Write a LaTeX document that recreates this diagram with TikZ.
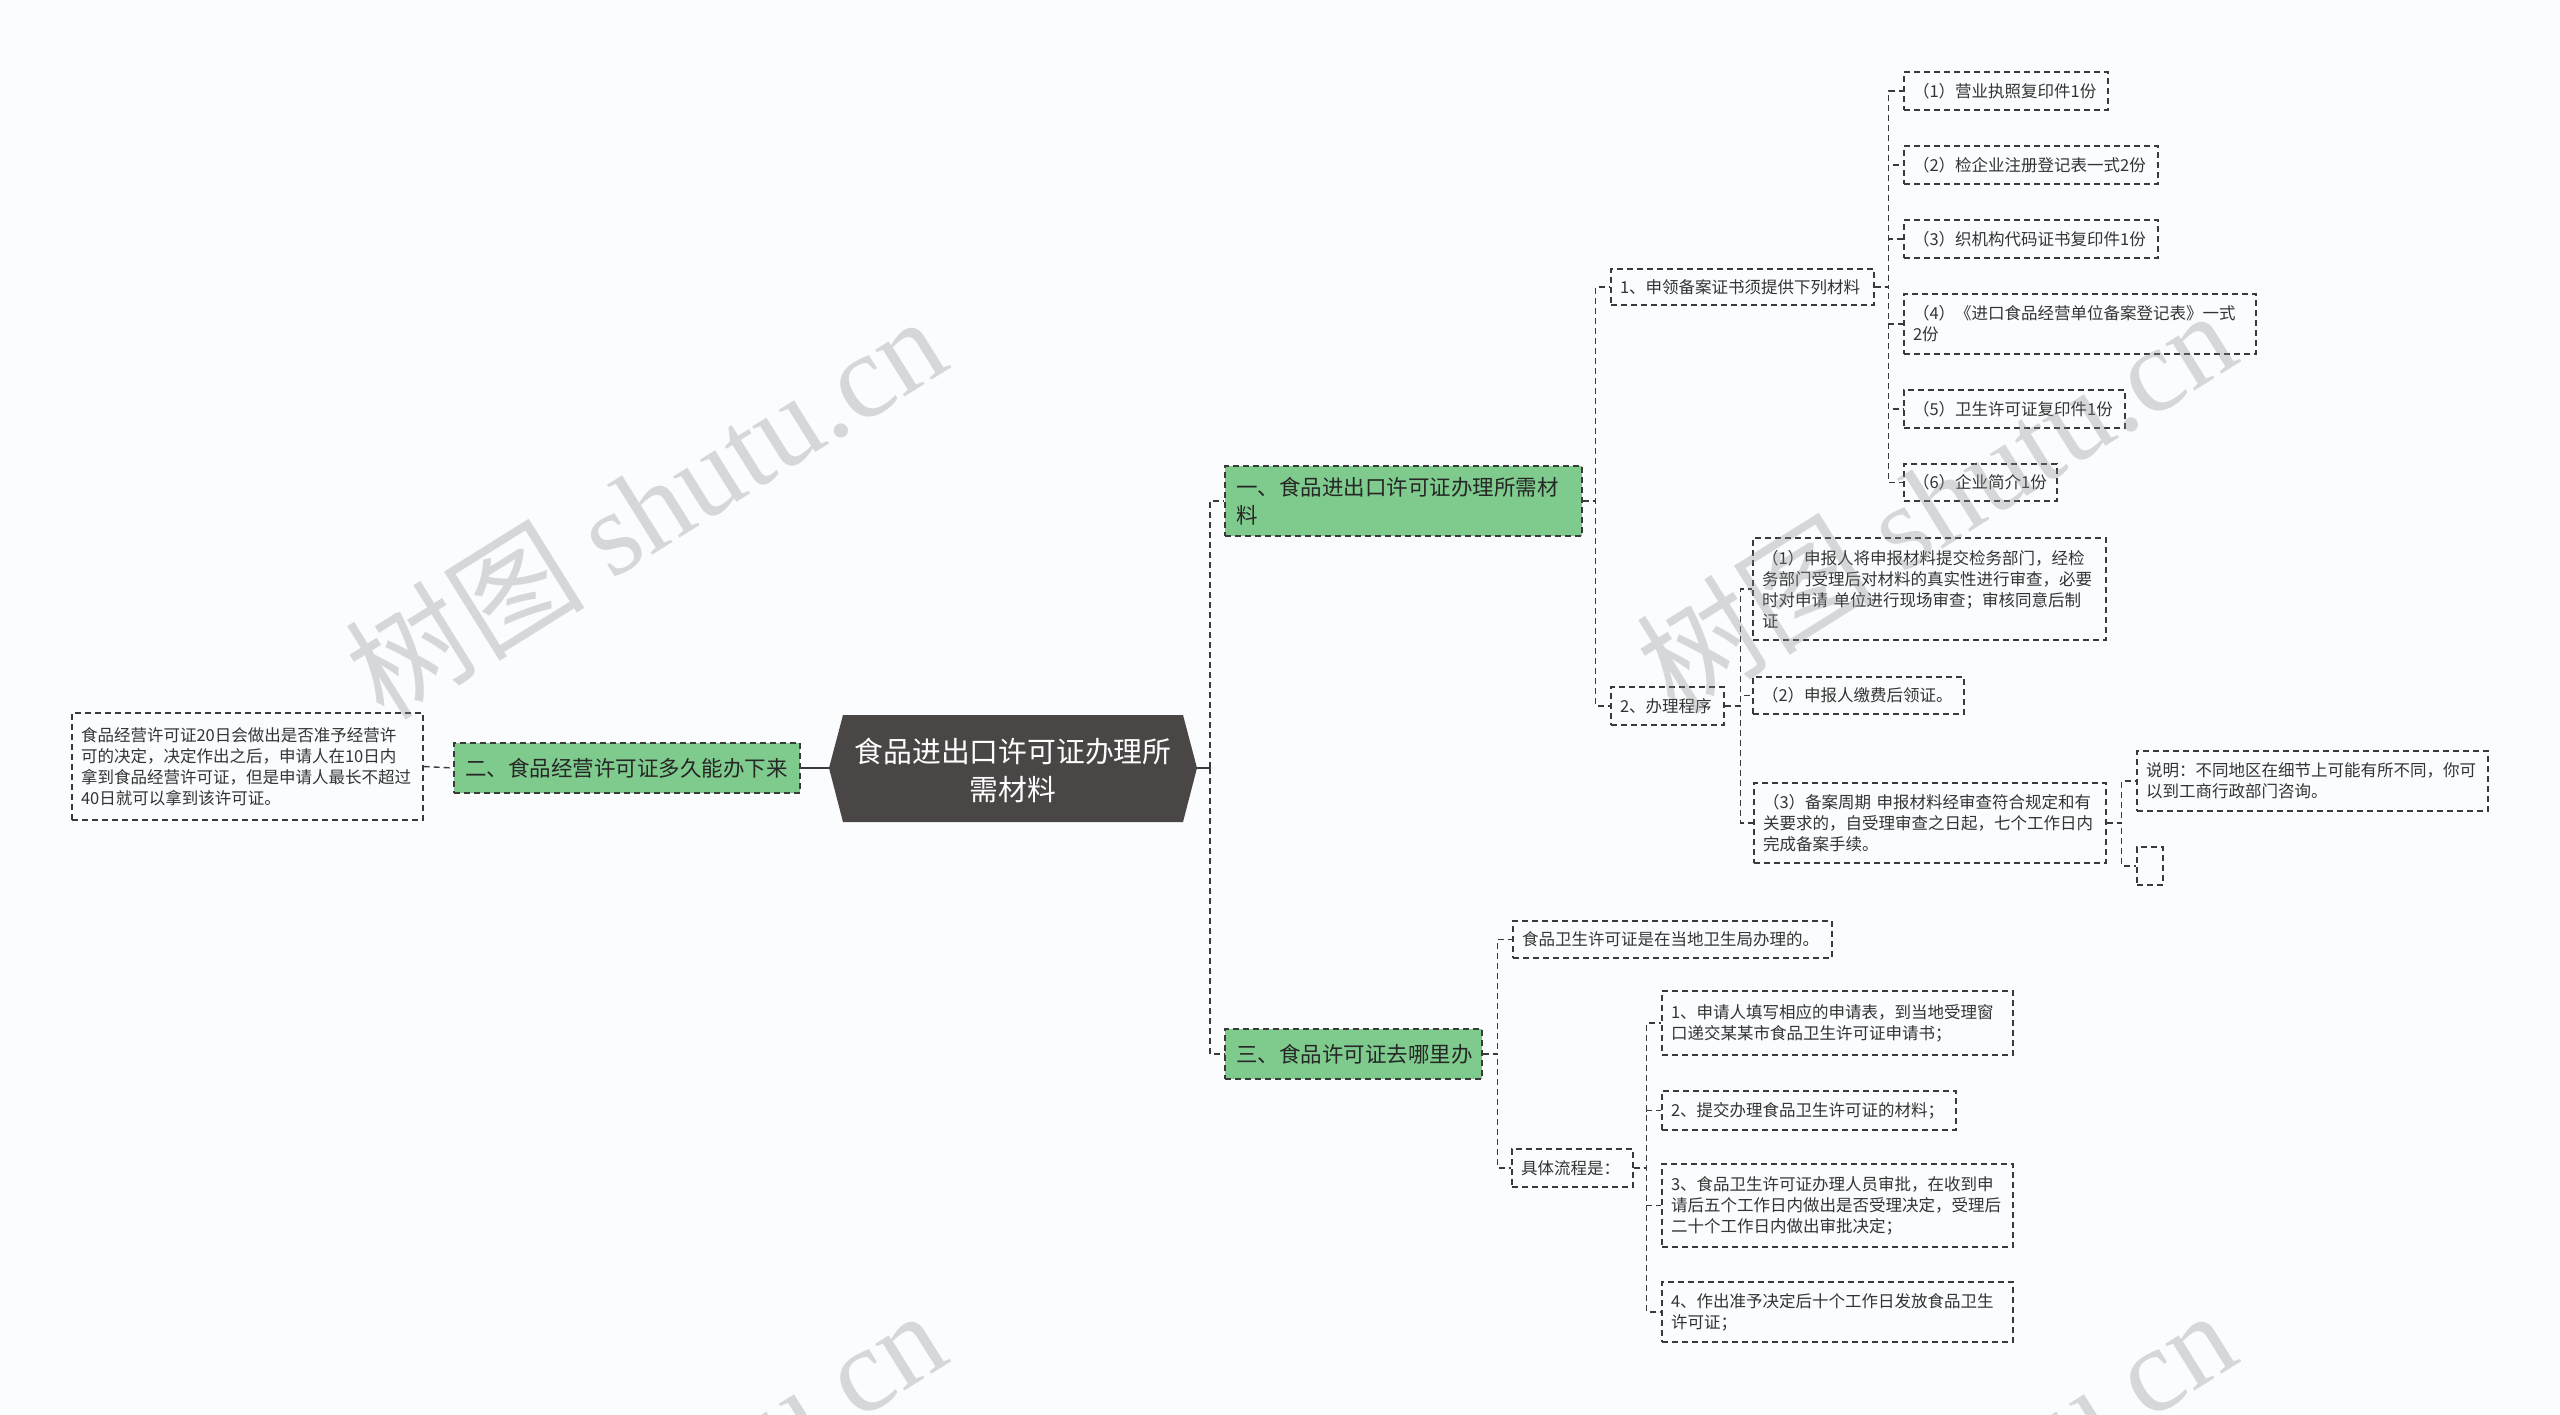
\documentclass[tikz,border=0pt]{standalone}
\usepackage{fontspec}
\newfontfamily\cjk{Noto Sans CJK SC}
\newfontfamily\wmserif{Liberation Serif}
\definecolor{bgcol}{HTML}{FAFCFE}
\definecolor{greencol}{HTML}{7FCB8E}
\definecolor{darkcol}{HTML}{4B4646}
\definecolor{bordercol}{HTML}{3A3A3A}
\definecolor{txtcol}{HTML}{333333}
\tikzset{
  smallbox/.style={draw=bordercol, dash pattern=on 3pt off 2pt, line width=0.7pt,
    text=txtcol, font=\cjk\fontsize{8.25pt}{10.5pt}\selectfont, align=left, inner ysep=1pt},
  greenbox/.style={smallbox, fill=greencol, text=black!85, font=\cjk\fontsize{10.75pt}{13.9pt}\selectfont},
  conn/.style={draw=bordercol, dash pattern=on 3pt off 2pt, line width=0.7pt},
  solidconn/.style={draw=bordercol, line width=0.7pt},
  wm/.style={rotate=32, text=black!45, opacity=0.33, inner sep=0pt}
}
\newcommand\bxnode[8][4.5]{%
  \pgfmathsetmacro\bxw{(#6-#4)/2}%
  \pgfmathsetmacro\bxh{(#7-#5)/2}%
  \pgfmathsetmacro\bxt{(#6-#4)/2-2*#1}%
  \pgfmathsetmacro\bxcx{(#4+#6)/2}%
  \pgfmathsetmacro\bxcy{(#5+#7)/2}%
  \node[#2, inner xsep=#1pt, text width=\bxt pt, minimum width=\bxw pt, minimum height=\bxh pt] (#3) at (\bxcx,\bxcy) {#8};%
}
\begin{document}
\begin{tikzpicture}[x=0.5pt,y=-0.5pt]
\useasboundingbox (0,0) rectangle (2560,1414);
\fill[bgcol] (0,0) rectangle (2560,1414);

% central
\fill[darkcol] (843,715) -- (1183,715) -- (1197,768) -- (1183,822) -- (843,822) -- (829,768) -- cycle;
\node[font=\cjk\fontsize{14.4pt}{19pt}\selectfont, text=white, align=center] (c) at (1013,770) {食品进出口许可证办理所\\需材料};
\coordinate (cL) at (829,768);
\coordinate (cR) at (1197,768);
\coordinate (jc) at (1210,768);

% left branch
\bxnode{smallbox}{L}{72}{713}{423}{820}{食品经营许可证20日会做出是否准予经营许\\可的决定，决定作出之后，申请人在10日内\\拿到食品经营许可证，但是申请人最长不超过\\40日就可以拿到该许可证。}
\bxnode[5.5]{greenbox}{g2}{454}{743}{800}{793}{二、食品经营许可证多久能办下来}

% right level 1
\bxnode[5.5]{greenbox}{g1}{1225}{466}{1582}{536}{一、食品进出口许可证办理所需材\\料}
\bxnode[5.5]{greenbox}{g3}{1225}{1029}{1482}{1079}{三、食品许可证去哪里办}

% under g1
\bxnode{smallbox}{a1}{1611}{269}{1874}{305}{1、申领备案证书须提供下列材料}
\bxnode{smallbox}{a2}{1611}{687}{1724}{725}{2、办理程序}

\bxnode{smallbox}{i1}{1904}{72}{2108}{110}{（1）营业执照复印件1份}
\bxnode{smallbox}{i2}{1904}{146}{2158}{184}{（2）检企业注册登记表一式2份}
\bxnode{smallbox}{i3}{1904}{220}{2158}{258}{（3）织机构代码证书复印件1份}
\bxnode{smallbox}{i4}{1904}{294}{2256}{354}{（4）《进口食品经营单位备案登记表》一式\\2份}
\bxnode{smallbox}{i5}{1904}{390}{2125}{428}{（5）卫生许可证复印件1份}
\bxnode{smallbox}{i6}{1904}{464}{2057}{501}{（6）企业简介1份}

\bxnode{smallbox}{p1}{1753}{538}{2106}{640}{（1）申报人将申报材料提交检务部门，经检\\务部门受理后对材料的真实性进行审查，必要\\时对申请 单位进行现场审查；审核同意后制\\证}
\bxnode{smallbox}{p2}{1753}{677}{1964}{714}{（2）申报人缴费后领证。}
\bxnode{smallbox}{p3}{1754}{783}{2106}{863}{（3）备案周期 申报材料经审查符合规定和有\\关要求的，自受理审查之日起，七个工作日内\\完成备案手续。}

\bxnode{smallbox}{n1}{2137}{751}{2488}{811}{说明：不同地区在细节上可能有所不同，你可\\以到工商行政部门咨询。}
\node[smallbox, minimum width=13pt, minimum height=19pt, inner sep=0pt] (n2) at (2150,866) {};

% under g3
\bxnode{smallbox}{b1}{1513}{921}{1832}{958}{食品卫生许可证是在当地卫生局办理的。}
\bxnode{smallbox}{b2}{1512}{1149}{1633}{1187}{具体流程是：}

\bxnode{smallbox}{s1}{1662}{991}{2013}{1055}{1、申请人填写相应的申请表，到当地受理窗\\口递交某某市食品卫生许可证申请书；}
\bxnode{smallbox}{s2}{1662}{1091}{1956}{1130}{2、提交办理食品卫生许可证的材料；}
\bxnode{smallbox}{s3}{1662}{1164}{2013}{1247}{3、食品卫生许可证办理人员审批，在收到申\\请后五个工作日内做出是否受理决定，受理后\\二十个工作日内做出审批决定；}
\bxnode{smallbox}{s4}{1662}{1282}{2013}{1342}{4、作出准予决定后十个工作日发放食品卫生\\许可证；}

% connectors
\draw[conn] (L.east) -- (g2.west);
\draw[solidconn] (g2.east) -- (cL);
\draw[solidconn] (cR) -- (jc);
\draw[conn] (jc) |- (g1.west);
\draw[conn] (jc) |- (g3.west);

\foreach \t in {a1,a2} \draw[conn] (g1.east) -- ++(13,0) |- (\t.west);
\foreach \t in {i1,i2,i3,i4,i5,i6} \draw[conn] (a1.east) -- ++(14,0) |- (\t.west);
\foreach \t in {p1,p2,p3} \draw[conn] (a2.east) -- ++(16,0) |- (\t.west);
\foreach \t in {n1,n2} \draw[conn] (p3.east) -- ++(15,0) |- (\t.west);
\foreach \t in {b1,b2} \draw[conn] (g3.east) -- ++(15,0) |- (\t.west);
\foreach \t in {s1,s2,s3,s4} \draw[conn] (b2.east) -- ++(13,0) |- (\t.west);

% watermarks
\begin{scope}
\clip (0,0) rectangle (2560,1414);
\node[wm] (wm1) at (645,506) {\cjk\fontsize{60pt}{60pt}\selectfont 树图 \wmserif shutu.cn};
\node[wm] (wm2) at (1935,500) {\cjk\fontsize{60pt}{60pt}\selectfont 树图 \wmserif shutu.cn};
\node[wm] (wm3) at (645,1500) {\cjk\fontsize{60pt}{60pt}\selectfont 树图 \wmserif shutu.cn};
\node[wm] (wm4) at (1935,1500) {\cjk\fontsize{60pt}{60pt}\selectfont 树图 \wmserif shutu.cn};
\end{scope}
\end{tikzpicture}
\end{document}
